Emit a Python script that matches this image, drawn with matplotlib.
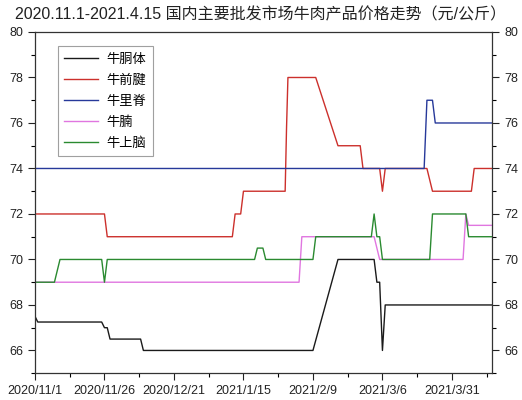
import numpy as np
import matplotlib.pyplot as plt
from matplotlib.ticker import MultipleLocator

plt.rcParams['font.family'] = ['Liberation Sans', 'Noto Sans CJK SC', 'DejaVu Sans']

# x = days since 2020/11/1
carcass_d = [0, 1, 24, 25, 26, 27, 38, 39, 100, 109, 122, 123, 124, 125, 126, 165]
carcass_v = [67.5, 67.25, 67.25, 67, 67, 66.5, 66.5, 66, 66, 70, 70, 69, 69, 66, 68, 68]

shank_d = [0, 25, 26, 71, 72, 74, 75, 90, 90.5, 91, 101, 109, 117, 118, 124, 125, 126,
           141, 143, 157, 158, 165]
shank_v = [72, 72, 71, 71, 72, 72, 73, 73, 75.8, 78, 78, 75, 75, 74, 74, 73, 74,
           74, 73, 73, 74, 74]

loin_d = [0, 140, 141, 143, 144, 165]
loin_v = [74, 74, 77, 77, 76, 76]

brisket_d = [0, 95, 96, 122, 124, 154, 155, 156, 165]
brisket_v = [69, 69, 71, 71, 70, 70, 72, 71.5, 71.5]

chuck_d = [0, 7, 9, 24, 25, 26, 79, 80, 82, 83, 100, 101, 121, 122, 123, 124, 125,
           142, 143, 155, 156, 165]
chuck_v = [69, 69, 70, 70, 69, 70, 70, 70.5, 70.5, 70, 70, 71, 71, 72, 71, 71, 70,
           70, 72, 72, 71, 71]

names = ['牛胴体', '牛前腱', '牛里脊', '牛腩', '牛上脑']
colors = ['#1a1a1a', '#cc302c', '#27399a', '#e076e0', '#2a8a30']

tick_days = [0, 25, 50, 75, 100, 125, 150]
tick_labels = ['2020/11/1', '2020/11/26', '2020/12/21', '2021/1/15',
               '2021/2/9', '2021/3/6', '2021/3/31']

fig = plt.figure(figsize=(5.22, 4.0), dpi=100)
ax = fig.add_axes([0.067, 0.067, 0.876, 0.853])

series = [(carcass_d, carcass_v), (shank_d, shank_v), (loin_d, loin_v),
          (brisket_d, brisket_v), (chuck_d, chuck_v)]
# draw order: keep blue over red where they overlap
order = [0, 1, 3, 4, 2]
lines = {}
for i in order:
    d, v = series[i]
    lines[i], = ax.plot(d, v, color=colors[i], lw=1.0, label=names[i])

ax.set_xlim(0, 164.5)
ax.set_ylim(65, 80)
ax.set_xticks(tick_days)
ax.set_xticklabels(tick_labels)
ax.xaxis.set_minor_locator(MultipleLocator(12.5))
ax.set_yticks(np.arange(66, 81, 2))
ax.yaxis.set_minor_locator(MultipleLocator(1))
ax.tick_params(axis='both', which='major', direction='out', length=5, width=0.8,
               labelsize=9, colors='#222222')
ax.tick_params(axis='both', which='minor', direction='out', length=3, width=0.8)
ax.tick_params(axis='y', which='both', right=True, labelright=True)
ax.tick_params(axis='x', which='both', top=False)
for s in ax.spines.values():
    s.set_linewidth(0.9)
    s.set_color('#333333')

leg = ax.legend([lines[i] for i in range(5)], names, loc='upper left',
                bbox_to_anchor=(0.035, 0.977), handlelength=2.6,
                labelspacing=0.6, fancybox=False, edgecolor='#888888',
                borderpad=0.5, handletextpad=0.6,
                prop={'family': ['Noto Sans CJK SC'], 'size': 9.5})
leg.get_frame().set_linewidth(0.8)

fig.text(0.5, 0.962, '2020.11.1-2021.4.15 国内主要批发市场牛肉产品价格走势（元/公斤）',
         ha='center', va='center', fontsize=11.5, color='#222222')

fig.savefig('out.png', dpi=100)
